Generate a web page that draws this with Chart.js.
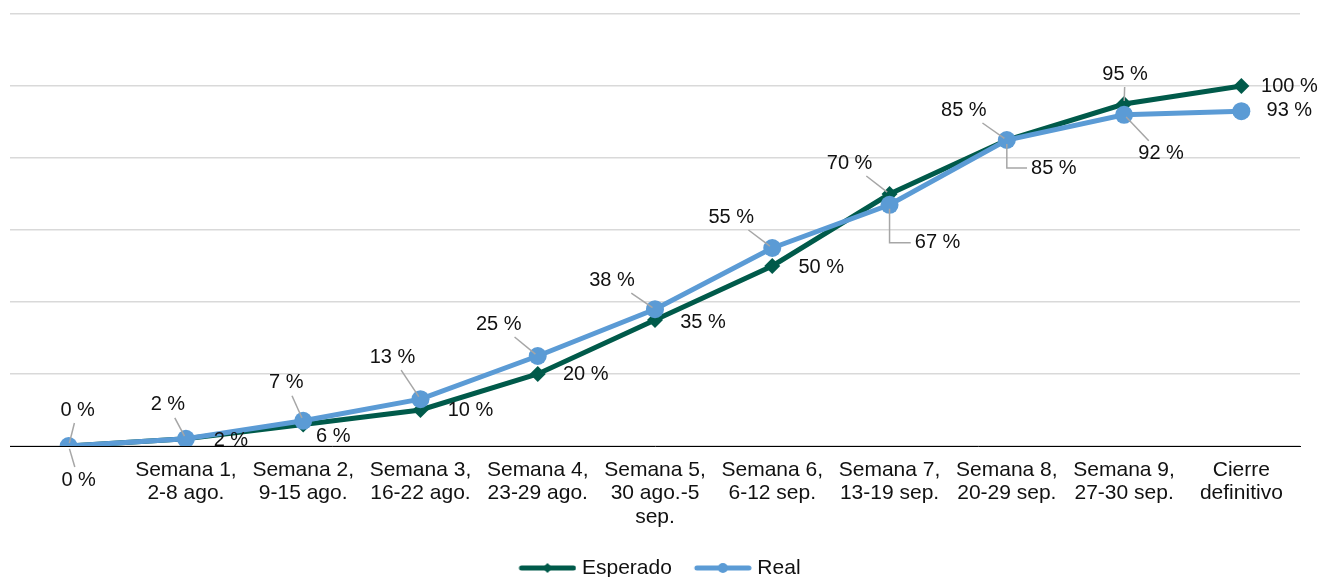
<!DOCTYPE html>
<html lang="es">
<head>
<meta charset="utf-8">
<title>Avance esperado y real</title>
<script src="https://cdn.jsdelivr.net/npm/chart.js@4/dist/chart.umd.min.js"></script>
<style>
  html, body { margin: 0; padding: 0; background: #ffffff; }
  #wrap { width: 1322px; height: 577px; position: relative; }
</style>
</head>
<body>
<div id="wrap"><canvas id="chart"></canvas></div>
<script>
// Categories (multi-line tick labels)
const categories = [
  ['', ''],
  ['Semana 1,', '2-8 ago.'],
  ['Semana 2,', '9-15 ago.'],
  ['Semana 3,', '16-22 ago.'],
  ['Semana 4,', '23-29 ago.'],
  ['Semana 5,', '30 ago.-5', 'sep.'],
  ['Semana 6,', '6-12 sep.'],
  ['Semana 7,', '13-19 sep.'],
  ['Semana 8,', '20-29 sep.'],
  ['Semana 9,', '27-30 sep.'],
  ['Cierre', 'definitivo']
];

// Series values (percent)
const esperado = [0, 2, 6, 10, 20, 35, 50, 70, 85, 95, 100];
const real     = [0, 2, 7, 13, 25, 38, 55, 67, 85, 92, 93];

// Y scale gridline values
const yTicks = [0, 20, 40, 60, 80, 100, 120];

const FONT = '"Liberation Sans", Arial, sans-serif';
const GREEN = '#005a4a';
const BLUE = '#5b9bd5';
const TEXT = '#111111';

// Label placement per point: [dx, dy, leader] ; leader 0 none, 1 straight, 2 elbow
const esperadoLabelPos = [
  [9, -36, 1], [45, 2, 0], [30, 12, 0], [50, 0, 0], [48, 0, 0], [48, 2, 0],
  [49, 1, 0], [-40, -31, 1], [-43, -30, 1], [1, -30, 1], [48, 0, 0]
];
const realLabelPos = [
  [10, 34, 1], [-18, -34, 1], [-17, -38, 1], [-28, -42, 1], [-39, -32, 1], [-43, -29, 1],
  [-41, -31, 1], [48, 38, 2], [47, 28, 2], [37, 39, 1], [48, -1, 0]
];

// Legend swatch: a short line with the series marker on it (left margin spaces the items)
function legendSwatch(color, marker) {
  const m = 14;
  const c = document.createElement('canvas');
  c.width = 58 + m; c.height = 14;
  const g = c.getContext('2d');
  g.strokeStyle = color; g.lineWidth = 5; g.lineCap = 'round';
  g.beginPath(); g.moveTo(m + 3, 7); g.lineTo(m + 55, 7); g.stroke();
  g.fillStyle = color;
  g.beginPath();
  if (marker === 'diamond') {
    g.moveTo(m + 29, 2); g.lineTo(m + 34, 7); g.lineTo(m + 29, 12); g.lineTo(m + 24, 7); g.closePath();
  } else {
    g.arc(m + 29, 7, 5, 0, Math.PI * 2);
  }
  g.fill();
  return c;
}

// Draws value labels with grey leader lines
const valueLabels = {
  id: 'valueLabels',
  afterDatasetsDraw(chart, args, opts) {
    const ctx = chart.ctx;
    ctx.save();
    ctx.font = opts.font;
    ctx.textAlign = 'center';
    ctx.textBaseline = 'middle';
    chart.data.datasets.forEach((ds, di) => {
      const meta = chart.getDatasetMeta(di);
      const pos = opts.positions[di];
      meta.data.forEach((pt, i) => {
        const [dx, dy, leader] = pos[i];
        const text = ds.data[i] + ' %';
        const cx = pt.x + dx, cy = pt.y + dy;
        const w = ctx.measureText(text).width;
        const h = 18;
        const pad = 4;
        ctx.strokeStyle = opts.leaderColor;
        ctx.lineWidth = 1.5;
        if (leader === 1) {
          const vx = pt.x - cx, vy = pt.y - cy;
          const len = Math.hypot(vx, vy);
          const ux = vx / len, uy = vy / len;
          const t = Math.min((w / 2 + pad) / Math.max(Math.abs(ux), 1e-6),
                             (h / 2 + pad) / Math.max(Math.abs(uy), 1e-6));
          ctx.beginPath();
          ctx.moveTo(cx + ux * t, cy + uy * t);
          ctx.lineTo(pt.x - ux * 3, pt.y - uy * 3);
          ctx.stroke();
        } else if (leader === 2) {
          const sx = cx - w / 2 - pad;
          ctx.beginPath();
          ctx.moveTo(sx, cy);
          ctx.lineTo(pt.x, cy);
          ctx.lineTo(pt.x, pt.y + 4);
          ctx.stroke();
        }
        ctx.fillStyle = opts.color;
        ctx.fillText(text, cx, cy);
      });
    });
    ctx.restore();
  }
};

new Chart(document.getElementById('chart'), {
  type: 'line',
  data: {
    labels: categories,
    datasets: [
      {
        label: 'Esperado',
        data: esperado,
        borderColor: GREEN,
        backgroundColor: GREEN,
        borderWidth: 5,
        pointStyle: 'rectRot',
        pointRadius: 8,
        pointBorderWidth: 0,
        tension: 0,
        order: 1
      },
      {
        label: 'Real',
        data: real,
        borderColor: BLUE,
        backgroundColor: BLUE,
        borderWidth: 5,
        pointStyle: 'circle',
        pointRadius: 9,
        pointBorderWidth: 0,
        tension: 0,
        order: 0
      }
    ]
  },
  options: {
    responsive: true,
    maintainAspectRatio: false,
    animation: false,
    layout: { padding: { left: 10, right: 22, top: 14, bottom: -11.5 } },
    scales: {
      x: {
        offset: true,
        grid: { display: false, drawTicks: false },
        border: { display: true, color: '#000000', width: 1 },
        ticks: {
          color: TEXT,
          font: { family: FONT, size: 21, lineHeight: 1.1 },
          padding: 13,
          maxRotation: 0,
          autoSkip: false
        },
        afterFit(scale) { scale.height = 98.5; }
      },
      y: {
        min: 0,
        max: 120,
        afterBuildTicks(scale) { scale.ticks = yTicks.map(v => ({ value: v })); },
        grid: { color: '#d9d9d9', lineWidth: 1.5, drawTicks: false },
        border: { display: false },
        ticks: { display: false }
      }
    },
    plugins: {
      legend: {
        position: 'bottom',
        labels: {
          usePointStyle: true,
          pointStyleWidth: 62,
          color: TEXT,
          font: { family: FONT, size: 21 },
          padding: 13,
          generateLabels(chart) {
            return chart.data.datasets.map((ds, i) => ({
              text: ds.label,
              pointStyle: legendSwatch(ds.borderColor, i === 0 ? 'diamond' : 'circle'),
              fillStyle: ds.borderColor,
              strokeStyle: ds.borderColor,
              lineWidth: 0,
              hidden: false,
              datasetIndex: i,
              fontColor: TEXT
            }));
          }
        }
      },
      tooltip: { enabled: false },
      valueLabels: {
        font: '20px ' + FONT,
        color: TEXT,
        leaderColor: '#a6a6a6',
        positions: [esperadoLabelPos, realLabelPos]
      }
    }
  },
  plugins: [valueLabels]
});
</script>
</body>
</html>
